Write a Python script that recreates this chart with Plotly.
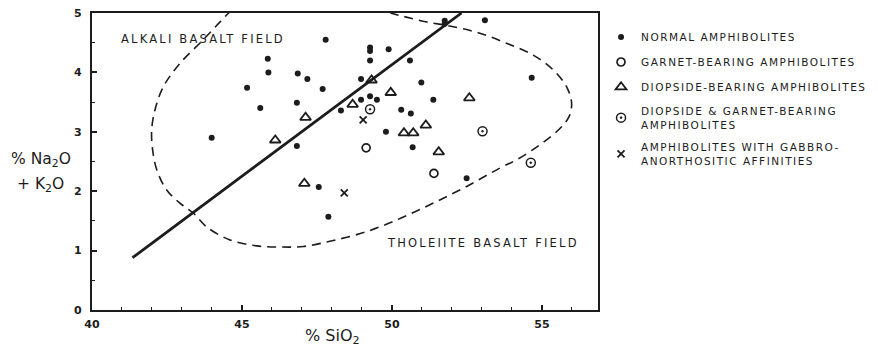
import plotly.graph_objects as go

INK = "#1c1c1c"

# Na2O + K2O versus SiO2 (wt %) for each amphibolite group
normal_sio2 = [43.99, 45.17, 45.61, 45.86, 45.88, 46.83, 46.83, 46.86, 47.18, 47.56,
               47.69, 47.79, 47.88, 48.30, 48.97, 48.97, 49.27, 49.27, 49.27, 49.27,
               49.50, 49.80, 49.89, 50.31, 50.60, 50.63, 50.69, 50.98, 51.38, 51.76,
               51.76, 52.49, 53.10, 54.66]
normal_alk = [2.90, 3.74, 3.40, 4.23, 4.00, 3.49, 2.76, 3.98, 3.89, 2.07,
              3.72, 4.55, 1.57, 3.36, 3.89, 3.54, 4.42, 4.36, 4.20, 3.60,
              3.54, 3.00, 4.39, 3.37, 4.20, 3.31, 2.74, 3.83, 3.54, 4.87,
              4.82, 2.22, 4.88, 3.91]

garnet_sio2 = [49.14, 51.40]
garnet_alk = [2.73, 2.30]

diopside_sio2 = [46.11, 47.12, 47.08, 48.69, 49.32, 49.96, 50.40, 50.71, 51.13, 51.56, 52.58]
diopside_alk = [2.86, 3.24, 2.13, 3.46, 3.87, 3.66, 2.98, 2.98, 3.11, 2.66, 3.57]

diop_garnet_sio2 = [49.27, 53.02, 54.63]
diop_garnet_alk = [3.38, 3.01, 2.48]

gabbro_sio2 = [49.04, 48.41]
gabbro_alk = [3.20, 1.97]

# Alkali / tholeiite dividing line
divide_sio2 = [41.35, 52.32]
divide_alk = [0.88, 5.0]

# Envelope of the analysed amphibolites
field_sio2 = [44.65, 44.27, 43.71, 42.93, 42.38, 42.10, 41.99, 42.02, 42.16, 42.49,
              42.93, 43.38, 43.82, 44.60, 45.49, 46.27, 47.05, 48.04, 49.16, 50.27,
              51.38, 52.49, 53.60, 54.16, 54.93, 55.55, 55.90, 55.99, 55.82, 55.38,
              54.71, 53.82, 52.93, 52.04, 51.16, 50.40, 49.95]
field_alk = [5.05, 4.85, 4.55, 4.15, 3.76, 3.37, 3.03, 2.70, 2.36, 2.02,
             1.80, 1.63, 1.40, 1.18, 1.08, 1.06, 1.07, 1.17, 1.32, 1.54,
             1.80, 2.08, 2.39, 2.53, 2.78, 3.03, 3.25, 3.48, 3.76, 4.04,
             4.29, 4.49, 4.66, 4.77, 4.85, 4.94, 5.0]

x_ticks = [40, 45, 50, 55]
y_ticks = [0, 1, 2, 3, 4, 5]


def spaced(text, sp=1.5):
    return "<br>".join(
        f"<span style='letter-spacing:{sp}px'>{line}</span>" for line in text.split("\n")
    )


fig = go.Figure()

fig.add_trace(go.Scatter(
    x=field_sio2, y=field_alk, mode="lines", line_shape="spline",
    line=dict(color=INK, width=1.6, dash="9px,6px"), showlegend=False, hoverinfo="skip"))
fig.add_trace(go.Scatter(
    x=divide_sio2, y=divide_alk, mode="lines",
    line=dict(color=INK, width=2.8), showlegend=False, hoverinfo="skip"))

groups = [
    ("NORMAL AMPHIBOLITES", normal_sio2, normal_alk,
     dict(symbol="circle", size=6, color=INK)),
    ("GARNET-BEARING AMPHIBOLITES", garnet_sio2, garnet_alk,
     dict(symbol="circle-open", size=8, color=INK, line=dict(width=1.7, color=INK))),
    ("DIOPSIDE-BEARING AMPHIBOLITES", diopside_sio2, diopside_alk,
     dict(symbol="triangle-up-open", size=9.5, color=INK, line=dict(width=1.8, color=INK))),
    ("DIOPSIDE & GARNET-BEARING\nAMPHIBOLITES", diop_garnet_sio2, diop_garnet_alk,
     dict(symbol="circle-open-dot", size=9, color=INK, line=dict(width=1.5, color=INK))),
    ("AMPHIBOLITES WITH GABBRO-\nANORTHOSITIC AFFINITIES", gabbro_sio2, gabbro_alk,
     dict(symbol="x-thin-open", size=7, color=INK, line=dict(width=1.8, color=INK))),
]
for i, (name, xs, ys, mk) in enumerate(groups):
    fig.add_trace(go.Scatter(
        x=xs, y=ys, mode="markers", name=spaced(name), legendgroup=f"g{i}",
        marker=mk, cliponaxis=False))

fig.add_annotation(x=43.7, y=4.56, xref="x", yref="y", showarrow=False,
                   text=spaced("ALKALI BASALT FIELD", 2.2),
                   font=dict(family="DejaVu Sans", size=11.5, color=INK))
fig.add_annotation(x=53.03, y=1.13, xref="x", yref="y", showarrow=False,
                   text=spaced("THOLEIITE BASALT FIELD", 2.2),
                   font=dict(family="DejaVu Sans", size=11.5, color=INK))

# Axis titles
fig.add_annotation(x=0.475, y=-0.088, xref="paper", yref="paper", showarrow=False,
                   text="% SiO<sub>2</sub>", xanchor="center", yanchor="middle",
                   font=dict(family="DejaVu Sans", size=16, color=INK))
fig.add_annotation(x=-0.1, y=0.505, xref="paper", yref="paper", showarrow=False,
                   text="% Na<sub>2</sub>O", xanchor="center", yanchor="middle",
                   font=dict(family="DejaVu Sans", size=15.5, color=INK))
fig.add_annotation(x=-0.102, y=0.42, xref="paper", yref="paper", showarrow=False,
                   text="+ K<sub>2</sub>O", xanchor="center", yanchor="middle",
                   font=dict(family="DejaVu Sans", size=15.5, color=INK))

axis_common = dict(
    showline=True, linecolor=INK, linewidth=2.2, mirror=True,
    ticks="inside", tickcolor=INK, tickwidth=1.5, ticklen=5,
    showgrid=False, zeroline=False,
    tickfont=dict(family="DejaVu Sans", size=11, color=INK, weight="bold"),
)

fig.update_xaxes(range=[40, 56.87], tickvals=x_ticks, ticktext=[str(v) for v in x_ticks],
                 minor=dict(dtick=1, ticks="inside", ticklen=3, tickwidth=1.3, tickcolor=INK),
                 ticklabelstandoff=3, **axis_common)
fig.update_yaxes(range=[0, 5], tickvals=y_ticks, ticktext=[str(v) for v in y_ticks],
                 minor=dict(dtick=0.5, ticks="inside", ticklen=3, tickwidth=1.3, tickcolor=INK),
                 ticklabelstandoff=6, **axis_common)

fig.update_layout(
    width=878, height=347,
    margin=dict(l=92, r=280, t=13, b=37, autoexpand=False),
    paper_bgcolor="white", plot_bgcolor="white",
    font=dict(family="DejaVu Sans", color=INK),
    legend=dict(x=1.006, y=0.968, xanchor="left", yanchor="top",
                font=dict(family="DejaVu Sans", size=10.5, color=INK),
                tracegroupgap=6, itemsizing="trace", bgcolor="rgba(0,0,0,0)"),
)

fig.write_html("out.html")
